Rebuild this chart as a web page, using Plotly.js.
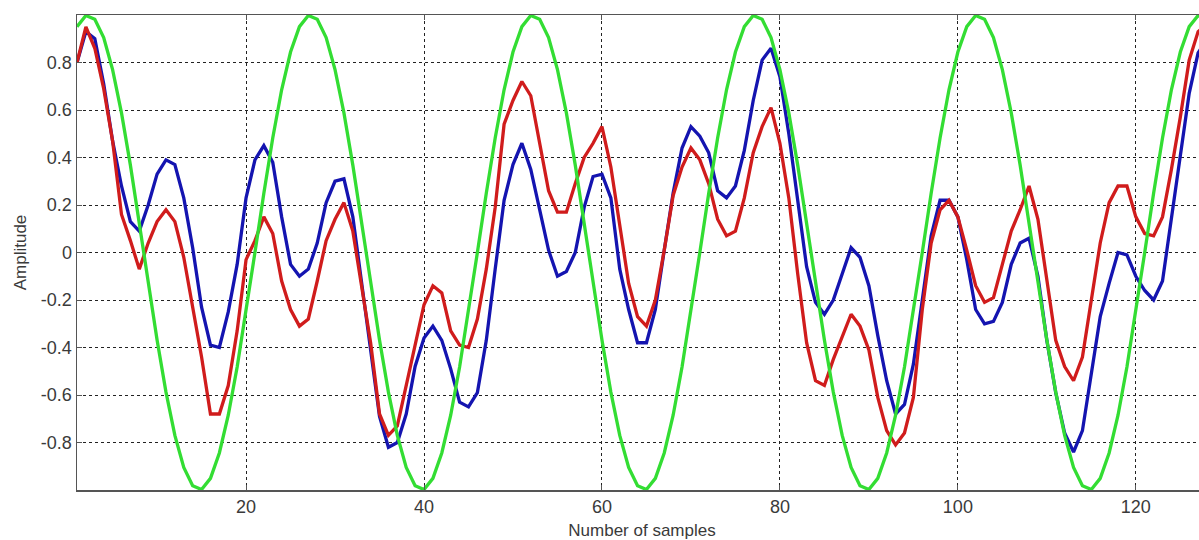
<!DOCTYPE html>
<html>
<head>
<meta charset="utf-8">
<script src="https://cdn.plot.ly/plotly-3.0.1.min.js"></script>
<style>
html,body{margin:0;padding:0;overflow:hidden;background:#fff;width:1199px;height:540px;}
#chart{width:1207px;height:540px;}
</style>
</head>
<body>
<div id="chart"></div>
<script>
// sample index 1..128
var samples = [];
for (var i = 1; i <= 128; i++) samples.push(i);

var blueSeries = [
  0.80, 0.93, 0.90, 0.71, 0.47, 0.28, 0.13, 0.09, 0.20, 0.33,
  0.39, 0.37, 0.23, 0.02, -0.23, -0.39, -0.40, -0.25, -0.05, 0.23,
  0.39, 0.45, 0.38, 0.15, -0.05, -0.10, -0.07, 0.04, 0.21, 0.30,
  0.31, 0.15, -0.13, -0.40, -0.69, -0.82, -0.80, -0.68, -0.48, -0.36,
  -0.31, -0.37, -0.49, -0.63, -0.65, -0.59, -0.37, -0.07, 0.22, 0.37,
  0.46, 0.35, 0.18, 0.01, -0.10, -0.08, 0.00, 0.19, 0.32, 0.33,
  0.23, -0.07, -0.24, -0.38, -0.38, -0.24, 0.01, 0.25, 0.44, 0.53,
  0.49, 0.42, 0.26, 0.23, 0.28, 0.43, 0.64, 0.81, 0.86, 0.74,
  0.50, 0.21, -0.06, -0.21, -0.26, -0.20, -0.09, 0.02, -0.02, -0.14,
  -0.35, -0.54, -0.68, -0.64, -0.47, -0.20, 0.07, 0.22, 0.22, 0.15,
  -0.03, -0.24, -0.30, -0.29, -0.21, -0.05, 0.04, 0.06, -0.10, -0.37,
  -0.59, -0.76, -0.84, -0.75, -0.52, -0.27, -0.13, 0.00, -0.01, -0.10,
  -0.16, -0.20, -0.12, 0.15, 0.40, 0.67, 0.84, 0.90
];

var redSeries = [
  0.80, 0.95, 0.86, 0.69, 0.47, 0.16, 0.05, -0.07, 0.04, 0.13,
  0.18, 0.13, -0.02, -0.23, -0.44, -0.68, -0.68, -0.56, -0.33, -0.03,
  0.05, 0.15, 0.08, -0.12, -0.24, -0.31, -0.28, -0.12, 0.05, 0.14,
  0.21, 0.09, -0.14, -0.38, -0.68, -0.77, -0.73, -0.56, -0.38, -0.22,
  -0.14, -0.17, -0.33, -0.39, -0.40, -0.28, -0.07, 0.19, 0.54, 0.64,
  0.72, 0.66, 0.46, 0.26, 0.17, 0.17, 0.29, 0.40, 0.46, 0.53,
  0.36, 0.12, -0.13, -0.27, -0.31, -0.20, 0.01, 0.24, 0.36, 0.44,
  0.39, 0.29, 0.14, 0.07, 0.09, 0.23, 0.42, 0.53, 0.61, 0.46,
  0.23, -0.09, -0.38, -0.54, -0.56, -0.45, -0.35, -0.26, -0.31, -0.41,
  -0.61, -0.75, -0.81, -0.76, -0.61, -0.24, 0.04, 0.18, 0.22, 0.15,
  0.01, -0.14, -0.21, -0.19, -0.05, 0.09, 0.18, 0.28, 0.14, -0.12,
  -0.37, -0.48, -0.54, -0.44, -0.21, 0.04, 0.21, 0.28, 0.28, 0.15,
  0.08, 0.07, 0.15, 0.35, 0.57, 0.81, 0.93, 0.96
];

var greenSeries = [
  0.951, 0.998, 0.982, 0.905, 0.770, 0.588, 0.368, 0.125, -0.125, -0.368,
  -0.588, -0.770, -0.905, -0.982, -0.998, -0.951, -0.844, -0.685, -0.482, -0.249,
  0.000, 0.249, 0.482, 0.685, 0.844,
  0.951, 0.998, 0.982, 0.905, 0.770, 0.588, 0.368, 0.125, -0.125, -0.368,
  -0.588, -0.770, -0.905, -0.982, -0.998, -0.951, -0.844, -0.685, -0.482, -0.249,
  0.000, 0.249, 0.482, 0.685, 0.844,
  0.951, 0.998, 0.982, 0.905, 0.770, 0.588, 0.368, 0.125, -0.125, -0.368,
  -0.588, -0.770, -0.905, -0.982, -0.998, -0.951, -0.844, -0.685, -0.482, -0.249,
  0.000, 0.249, 0.482, 0.685, 0.844,
  0.951, 0.998, 0.982, 0.905, 0.770, 0.588, 0.368, 0.125, -0.125, -0.368,
  -0.588, -0.770, -0.905, -0.982, -0.998, -0.951, -0.844, -0.685, -0.482, -0.249,
  0.000, 0.249, 0.482, 0.685, 0.844,
  0.951, 0.998, 0.982, 0.905, 0.770, 0.588, 0.368, 0.125, -0.125, -0.368,
  -0.588, -0.770, -0.905, -0.982, -0.998, -0.951, -0.844, -0.685, -0.482, -0.249,
  0.000, 0.249, 0.482, 0.685, 0.844,
  0.951, 0.998, 0.982
];

var xTickVals = [20, 40, 60, 80, 100, 120];
var xTickText = ["20", "40", "60", "80", "100", "120"];
var yTickVals = [-0.8, -0.6, -0.4, -0.2, 0, 0.2, 0.4, 0.6, 0.8];
var yTickText = ["-0.8", "-0.6", "-0.4", "-0.2", "0", "0.2", "0.4", "0.6", "0.8"];

var FONT = "Liberation Sans, Arial, Helvetica, sans-serif";

var traces = [
  {x: samples, y: blueSeries, mode: "lines", line: {color: "#1414b0", width: 3.3}, hoverinfo: "skip"},
  {x: samples, y: redSeries, mode: "lines", line: {color: "#d01c1c", width: 3.3}, hoverinfo: "skip"},
  {x: samples, y: greenSeries, mode: "lines", line: {color: "#33dd33", width: 3.3}, hoverinfo: "skip"}
];

var axisCommon = {
  showline: true, linecolor: "#555", linewidth: 1.5, mirror: "ticks",
  ticks: "inside", ticklen: 5, tickcolor: "#555", tickwidth: 1,
  showgrid: true, gridcolor: "#222", gridwidth: 1, griddash: "3px,3px",
  zeroline: false, tickfont: {family: FONT, size: 18, color: "#3a3a3a"}
};

var layout = {
  width: 1207, height: 540,
  margin: {l: 77, r: 0, t: 15, b: 50},
  paper_bgcolor: "#fff", plot_bgcolor: "#fff",
  showlegend: false,
  xaxis: Object.assign({}, axisCommon, {
    range: [1, 128], tickmode: "array", tickvals: xTickVals, ticktext: xTickText,
    title: {text: "Number of samples", font: {family: FONT, size: 17, color: "#3a3a3a"}, standoff: 9}
  }),
  yaxis: Object.assign({}, axisCommon, {
    range: [-1, 1], tickmode: "array", tickvals: yTickVals, ticktext: yTickText,
    title: {text: "Amplitude", font: {family: FONT, size: 17, color: "#3a3a3a"}, standoff: 10}
  })
};

Plotly.newPlot("chart", traces, layout, {staticPlot: true, displayModeBar: false});
</script>
</body>
</html>
